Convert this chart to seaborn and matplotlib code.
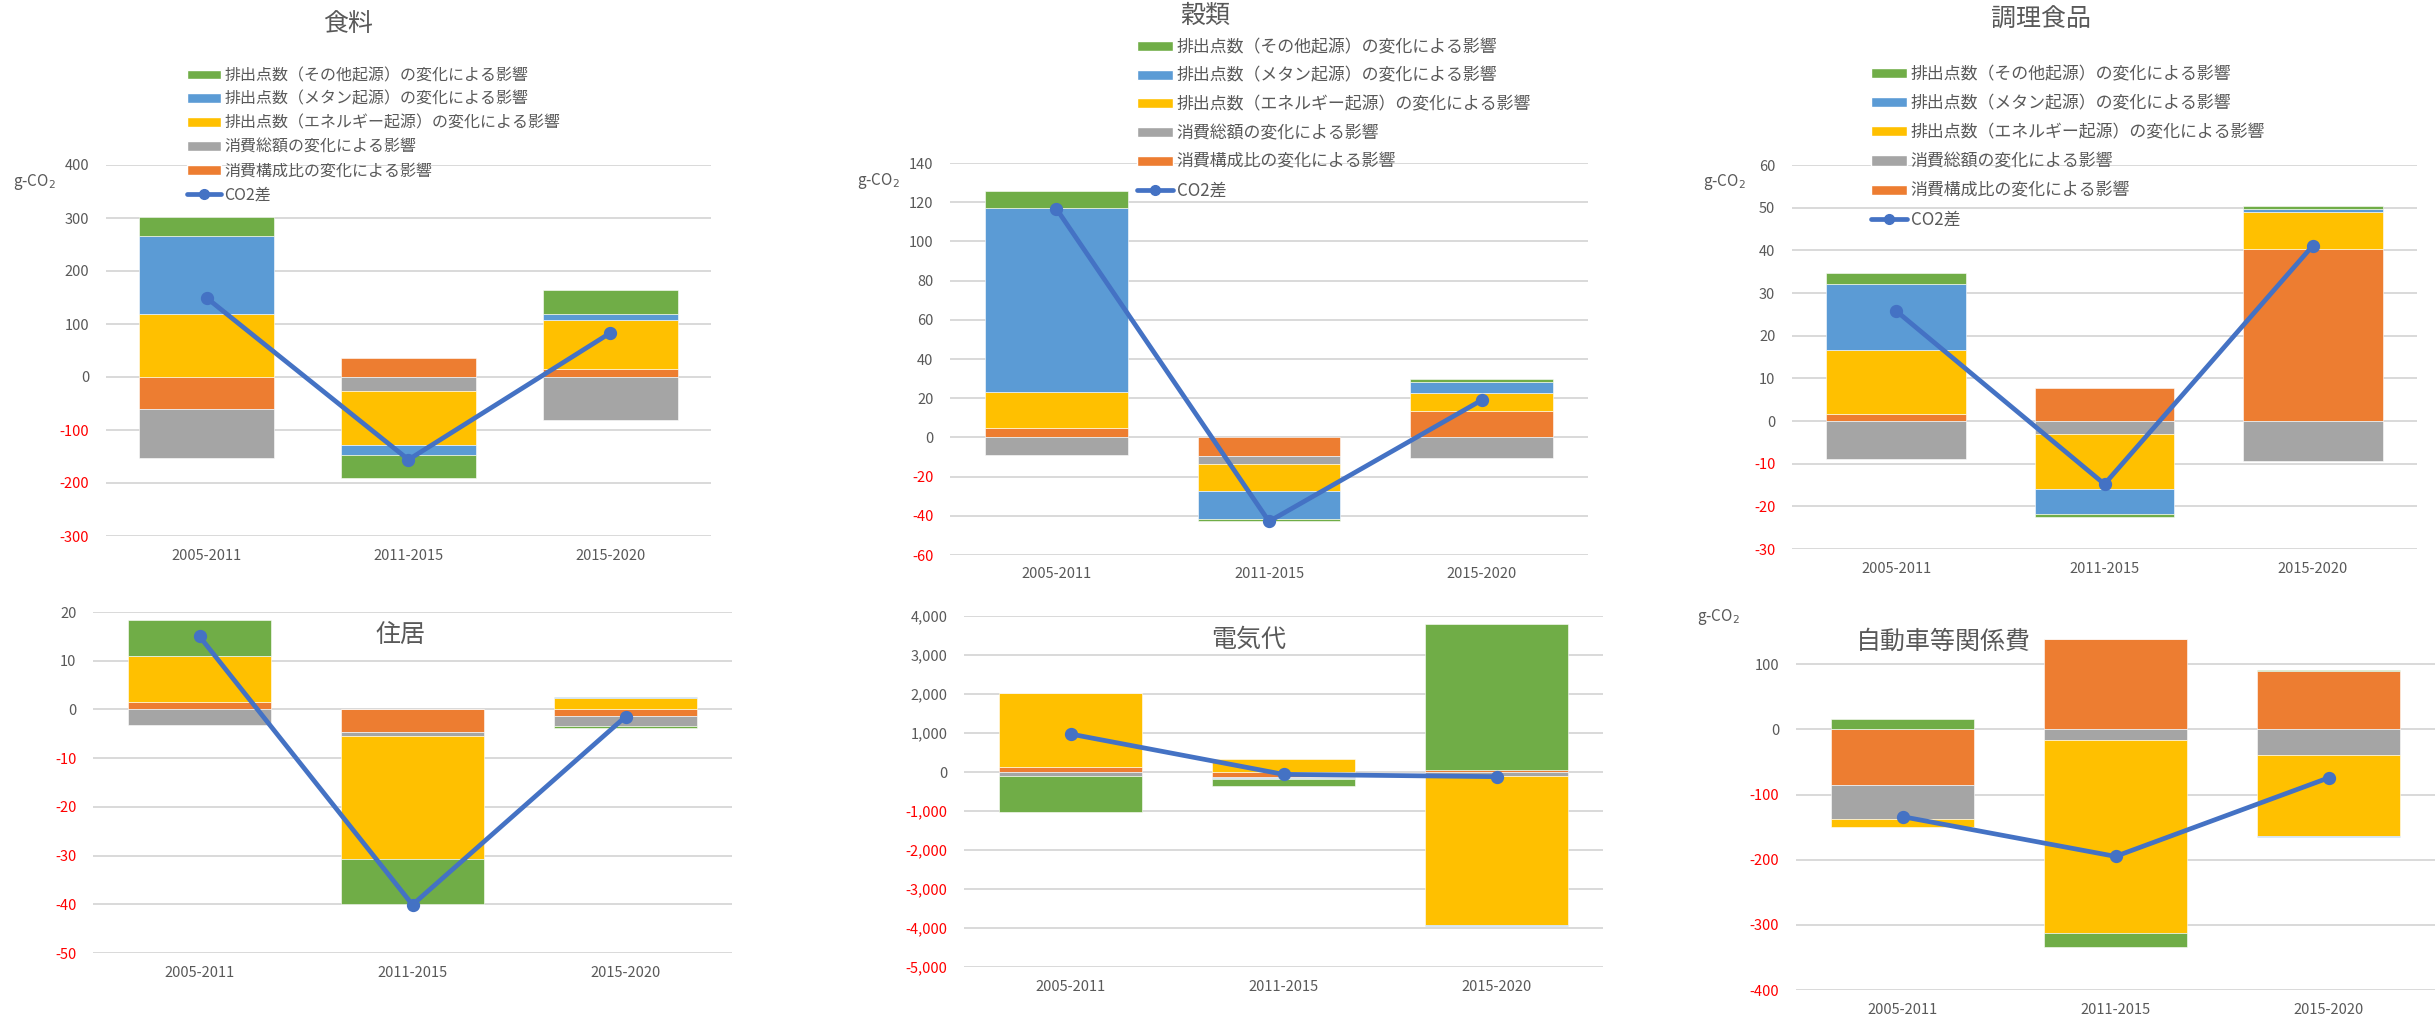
import numpy as np
import matplotlib
matplotlib.use("Agg")
import matplotlib.pyplot as plt
from matplotlib.patches import Patch
from matplotlib.lines import Line2D
from matplotlib.ticker import FuncFormatter
import seaborn as sns

sns.set_style("white")
plt.rcParams["font.family"] = ["Noto Sans CJK JP", "DejaVu Sans"]

# categories / series (stack order: orange, gray, yellow, blue, green)
periods = ["2005-2011", "2011-2015", "2015-2020"]
series_labels = ["消費構成比の変化による影響", "消費総額の変化による影響",
                 "排出点数（エネルギー起源）の変化による影響",
                 "排出点数（メタン起源）の変化による影響",
                 "排出点数（その他起源）の変化による影響"]
series_colors = ["#ED7D31", "#A5A5A5", "#FFC000", "#5B9BD5", "#70AD47"]
line_label = "CO2差"
line_color = "#4472C4"

# 食料
food = [[-60, 36, 16], [-92, -27, -82], [118, -102, 91], [148, -19, 12], [35, -43, 46]]
food_diff = [149, -156, 83]
# 穀類
grain = [[4.6, -9.7, 13.3], [-8.9, -4.0, -10.6], [18.5, -13.4, 9.5], [94.0, -14.6, 5.5], [8.6, -0.8, 1.3]]
grain_diff = [116.7, -42.9, 19.0]
# 調理食品
cooked = [[1.7, 7.8, 40.3], [-9.0, -3.0, -9.4], [15.0, -13.0, 8.7], [15.5, -5.7, 0.7], [2.6, -0.7, 0.8]]
cooked_diff = [25.8, -14.8, 41.1]
# 住居
housing = [[1.6, -4.6, -1.4], [-3.2, -0.8, -1.9], [9.4, -25.3, 2.3], [0.0, 0.0, 0.3], [7.3, -9.2, -0.6]]
housing_diff = [15.0, -40.1, -1.5]
# 電気代
electric = [[130, -140, 40], [-110, -25, -110], [1887, 325, -3813], [13, -20, -15], [-916, -175, 3755]]
electric_diff = [974, -60, -120]
# 自動車等関係費
car = [[-85, 139, 89], [-53, -15.8, -39], [-12, -296, -125], [0, 0, -1], [16.3, -22, 1.5]]
car_diff = [-134, -195, -74.5]

W, H = 2435, 1022
TXT = "#595959"

fig = plt.figure(figsize=(W / 100, H / 100), dpi=100)


def box(l, r, t, b):
    return [l / W, 1 - b / H, (r - l) / W, (b - t) / H]


def draw_panel(rect, vals, diff, ylim, yticks, thousands=False):
    ax = fig.add_axes(box(*rect))
    pos = np.zeros(len(periods))
    neg = np.zeros(len(periods))
    for v, c in zip(vals, series_colors):
        v = np.array(v, dtype=float)
        bottom = np.where(v >= 0, pos, neg)
        sns.barplot(x=periods, y=v, bottom=bottom, color=c, saturation=1,
                    width=0.67, errorbar=None, edgecolor="white", linewidth=0.4,
                    ax=ax, zorder=2)
        pos = pos + np.where(v >= 0, v, 0)
        neg = neg + np.where(v < 0, v, 0)
    sns.pointplot(x=periods, y=diff, color=line_color, markers="o",
                  errorbar=None, markersize=7, linewidth=3.4, ax=ax, zorder=5)
    ax.set_xlim(-0.5, 2.5)
    ax.set_ylim(*ylim)
    ax.set_yticks(yticks)
    if thousands:
        ax.yaxis.set_major_formatter(FuncFormatter(lambda v, p: f"{v:,.0f}"))
    else:
        ax.yaxis.set_major_formatter(FuncFormatter(lambda v, p: f"{v:.0f}"))
    ax.grid(axis="y", color="#D9D9D9", linewidth=1.4)
    ax.set_axisbelow(True)
    for s in ax.spines.values():
        s.set_visible(False)
    ax.set_xlabel("")
    ax.set_ylabel("")
    ax.tick_params(axis="y", length=0, pad=12, labelsize=10.5)
    ax.tick_params(axis="x", length=0, pad=9, labelsize=10.5, labelcolor=TXT)
    for t, v in zip(ax.get_yticklabels(), yticks):
        t.set_color("#FF0000" if v < 0 else TXT)
    return ax


draw_panel((106, 711, 165, 536), food, food_diff, (-300, 400), range(-300, 401, 100))
draw_panel((950, 1588, 163, 555), grain, grain_diff, (-60, 140), range(-60, 141, 20))
draw_panel((1792, 2417, 165, 549), cooked, cooked_diff, (-30, 60), range(-30, 61, 10))
draw_panel((93, 732, 612, 953), housing, housing_diff, (-50, 20), range(-50, 21, 10))
draw_panel((964, 1603, 616, 967), electric, electric_diff, (-5000, 4000),
           range(-5000, 4001, 1000), thousands=True)
draw_panel((1796, 2435, 599, 990), car, car_diff, (-400, 200), range(-400, 101, 100))

# titles
titles = [("食料", 348, 24), ("穀類", 1205, 16), ("調理食品", 2041, 20),
          ("住居", 400, 635), ("電気代", 1249, 640), ("自動車等関係費", 1943, 642)]
for name, x, y in titles:
    fig.text(x / W, 1 - y / H, name, ha="center", va="center", fontsize=18, color=TXT)

# unit labels
for x, y in [(34, 182), (878, 181), (1724, 182), (1718, 617)]:
    fig.text(x / W, 1 - y / H, "g-CO$_2$", ha="center", va="center", fontsize=11, color=TXT)

# legends (top row only)
handles = [Patch(facecolor=c) for c in series_colors][::-1]
handles.append(Line2D([0], [0], color=line_color, lw=3.4, marker="o", markersize=7))
labels = series_labels[::-1] + [line_label]
for x, y, fs, sp in [(187, 67, 11.5, 0.43), (1137, 38, 12.2, 0.63), (1871, 65, 12.2, 0.66)]:
    fig.legend(handles, labels, loc="upper left", bbox_to_anchor=(x / W, 1 - y / H),
               frameon=False, borderpad=0, borderaxespad=0, handlelength=2.1,
               handleheight=0.55, handletextpad=0.25, labelspacing=sp, fontsize=fs,
               labelcolor=TXT)

fig.savefig("out.png", dpi=100, facecolor="white")
